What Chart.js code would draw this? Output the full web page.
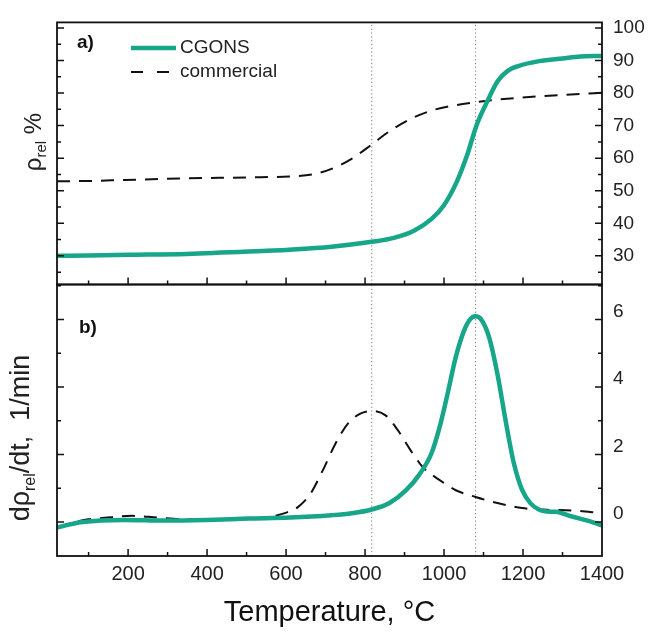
<!DOCTYPE html>
<html>
<head>
<meta charset="utf-8">
<script src="https://cdn.jsdelivr.net/npm/chart.js@4.4.1/dist/chart.umd.min.js"></script>
<style>
body { margin: 0; background: #fff; }
#wrap { position: relative; width: 649px; height: 632px; }
canvas { position: absolute; left: 0; top: 0; }
</style>
</head>
<body>
<div id="wrap">
<canvas id="panelA" width="649" height="632"></canvas>
<canvas id="panelB" width="649" height="632"></canvas>
</div>
<script>
// a) relative density, %
var cgonsT   = [20, 100, 200, 348, 505, 609, 715, 817, 873, 925, 967, 999, 1031, 1057, 1083, 1109, 1136, 1162, 1188, 1241, 1300, 1345, 1400];
var cgonsRho = [30.0, 30.1, 30.3, 30.6, 31.3, 31.9, 32.8, 34.3, 35.5, 37.8, 41.2, 45.4, 52.4, 60.4, 70.3, 77.3, 83.7, 86.9, 88.3, 89.8, 90.6, 91.2, 91.4];
var commT    = [20, 100, 191, 348, 505, 609, 671, 715, 766, 817, 861, 925, 976, 1031, 1083, 1136, 1241, 1345, 1400];
var commRho  = [52.9, 53.0, 53.3, 53.8, 54.1, 54.4, 55.1, 56.7, 59.8, 64.2, 68.2, 72.6, 74.9, 76.3, 77.2, 78.0, 79.0, 79.7, 80.1];

// b) densification rate, 1/min
var cgonsRateT = [20, 50, 85, 190, 295, 400, 505, 610, 715, 767, 817, 862, 904, 936, 968, 989, 1009, 1030, 1051, 1067, 1080, 1093, 1114, 1135, 1156, 1177, 1198, 1219, 1240, 1260, 1282, 1324, 1366, 1400];
var cgonsRate  = [-0.17, -0.08, 0.0, 0.06, 0.04, 0.06, 0.1, 0.13, 0.2, 0.26, 0.37, 0.56, 0.94, 1.38, 2.03, 2.82, 3.8, 4.9, 5.68, 6.02, 6.1, 6.02, 5.48, 4.4, 3.0, 1.73, 0.94, 0.55, 0.37, 0.31, 0.3, 0.16, 0.03, -0.1];
var commRateT  = [20, 85, 148, 211, 274, 348, 453, 546, 599, 630, 662, 693, 725, 757, 788, 820, 852, 883, 915, 946, 989, 1030, 1080, 1135, 1198, 1261, 1324, 1400];
var commRate   = [-0.15, 0.05, 0.13, 0.18, 0.13, 0.08, 0.09, 0.13, 0.27, 0.44, 0.84, 1.53, 2.32, 2.92, 3.21, 3.29, 3.16, 2.72, 2.13, 1.63, 1.24, 0.94, 0.74, 0.56, 0.41, 0.36, 0.34, 0.26];

// peak temperatures (dotted guides)
var markerT = [817, 1080];

// axes
var tMin = 20, tMax = 1400;
var xTicks = [200, 400, 600, 800, 1000, 1200, 1400];
var xMinor = [100, 300, 500, 700, 900, 1100, 1300];
var rhoMin = 21.2, rhoMax = 101.7;
var rhoTicks = [30, 40, 50, 60, 70, 80, 90, 100];
var rhoMinor = [25, 35, 45, 55, 65, 75, 85, 95];
var rateMin = -1.01, rateMax = 7.04;
var rateTicks = [0, 2, 4, 6];
var rateMinor = [-1, 1, 3, 5, 7];

var green = '#17a689';
var FONT = "'Liberation Sans', Arial, sans-serif";
Chart.defaults.font.family = FONT;
Chart.defaults.color = '#222';

function pts(xs, ys) {
    return xs.map(function (x, i) { return { x: x, y: ys[i] }; });
}

function guides(lo, hi) {
    return markerT.map(function (t) {
        return {
            label: 'guide',
            data: [{ x: t, y: lo }, { x: t, y: hi }],
            borderColor: '#777',
            borderWidth: 1,
            borderDash: [1.2, 2.6],
            pointRadius: 0
        };
    });
}

// inward major/minor ticks + box, origin style
function framePlugin(yMajor, yMinor) {
    return {
        id: 'frame',
        afterDatasetsDraw: function (chart) {
            var a = chart.chartArea, c = chart.ctx;
            var sx = chart.scales.x, sy = chart.scales.y;
            c.save();
            c.strokeStyle = '#111';
            c.lineWidth = 1.5;
            c.beginPath();
            function yt(v, len) {
                var p = sy.getPixelForValue(v);
                if (p < a.top + 1 || p > a.bottom - 1) return;
                c.moveTo(a.left, p); c.lineTo(a.left + len, p);
                c.moveTo(a.right, p); c.lineTo(a.right - len, p);
            }
            function xt(v, len) {
                var p = sx.getPixelForValue(v);
                c.moveTo(p, a.bottom); c.lineTo(p, a.bottom - len);
            }
            yMajor.forEach(function (v) { yt(v, 7); });
            yMinor.forEach(function (v) { yt(v, 4); });
            xTicks.forEach(function (v) { if (v < tMax) xt(v, 7); });
            xMinor.forEach(function (v) { xt(v, 4); });
            c.stroke();
            c.lineWidth = 1.8;
            c.strokeRect(a.left, a.top, a.right - a.left, a.bottom - a.top);
            c.restore();
        }
    };
}

// rotated axis label with a subscript part
function drawRotated(c, x, yMid, parts) {
    var total = 0;
    parts.forEach(function (p) {
        c.font = p.size + 'px ' + FONT;
        p.w = c.measureText(p.t).width;
        total += p.w;
    });
    c.save();
    c.translate(x, yMid + total / 2);
    c.rotate(-Math.PI / 2);
    c.fillStyle = '#222';
    c.textBaseline = 'alphabetic';
    var pos = 0;
    parts.forEach(function (p) {
        c.font = p.size + 'px ' + FONT;
        c.fillText(p.t, pos, p.dy || 0);
        pos += p.w;
    });
    c.restore();
}

var labelsA = {
    id: 'labelsA',
    afterDraw: function (chart) {
        var c = chart.ctx;
        var ds = chart.data.datasets;
        c.save();
        c.fillStyle = '#111';
        c.font = 'bold 19px ' + FONT;
        c.textBaseline = 'alphabetic';
        c.fillText('a)', 77, 48);
        // legend
        c.strokeStyle = ds[0].borderColor;
        c.lineWidth = ds[0].borderWidth;
        c.beginPath(); c.moveTo(131, 48); c.lineTo(176, 48); c.stroke();
        c.strokeStyle = ds[1].borderColor;
        c.lineWidth = ds[1].borderWidth;
        c.setLineDash([12, 14]);
        c.beginPath(); c.moveTo(131, 72); c.lineTo(172, 72); c.stroke();
        c.setLineDash([]);
        c.fillStyle = '#222';
        c.font = '19px ' + FONT;
        c.textBaseline = 'middle';
        c.fillText(ds[0].label, 180, 48);
        c.fillText(ds[1].label, 180, 72);
        c.restore();
        drawRotated(c, 41, 142, [
            { t: '\u03c1', size: 24 },
            { t: 'rel', size: 15, dy: 5 },
            { t: ' %', size: 24 }
        ]);
    }
};

var labelsB = {
    id: 'labelsB',
    afterDraw: function (chart) {
        var c = chart.ctx;
        c.save();
        c.fillStyle = '#111';
        c.font = 'bold 19px ' + FONT;
        c.fillText('b)', 79, 333);
        c.restore();
        drawRotated(c, 29, 438, [
            { t: 'd\u03c1', size: 27 },
            { t: 'rel', size: 16, dy: 6 },
            { t: '/dt,  1/min', size: 27 }
        ]);
    }
};

var ctx = document.getElementById('panelA').getContext('2d');
var chartA = new Chart(ctx, {
    type: 'line',
    data: {
        datasets: [
            {
                label: 'CGONS',
                data: pts(cgonsT, cgonsRho),
                borderColor: green,
                borderWidth: 4.5,
                pointRadius: 0,
                cubicInterpolationMode: 'monotone'
            },
            {
                label: 'commercial',
                data: pts(commT, commRho),
                borderColor: '#111',
                borderWidth: 2,
                borderDash: [13, 9],
                pointRadius: 0,
                cubicInterpolationMode: 'monotone'
            }
        ].concat(guides(rhoMin, rhoMax))
    },
    options: {
        responsive: false,
        animation: false,
        layout: { padding: { left: 57, top: 15, right: 0, bottom: 347.5 } },
        plugins: { legend: { display: false }, tooltip: { enabled: false } },
        scales: {
            x: { type: 'linear', min: tMin, max: tMax, display: false },
            y: {
                type: 'linear',
                position: 'right',
                min: rhoMin,
                max: rhoMax,
                grid: { display: false, drawTicks: false },
                border: { display: false },
                afterBuildTicks: function (s) { s.ticks = rhoTicks.map(function (v) { return { value: v }; }); },
                afterFit: function (s) { s.width = 47; },
                ticks: { font: { size: 19 }, padding: 11, color: '#222' }
            }
        }
    },
    plugins: [framePlugin(rhoTicks, rhoMinor), labelsA]
});

/*-----------------------------------------------b---------------------------------------------*/

var ctx = document.getElementById('panelB').getContext('2d');
var chartB = new Chart(ctx, {
    type: 'line',
    data: {
        datasets: [
            {
                label: 'CGONS',
                data: pts(cgonsRateT, cgonsRate),
                borderColor: green,
                borderWidth: 4.5,
                pointRadius: 0,
                cubicInterpolationMode: 'monotone'
            },
            {
                label: 'commercial',
                data: pts(commRateT, commRate),
                borderColor: '#111',
                borderWidth: 2,
                borderDash: [13, 9],
                pointRadius: 0,
                cubicInterpolationMode: 'monotone'
            }
        ].concat(guides(rateMin, rateMax))
    },
    options: {
        responsive: false,
        animation: false,
        layout: { padding: { left: 57, top: 284.5, right: 0, bottom: 0 } },
        plugins: { legend: { display: false }, tooltip: { enabled: false } },
        scales: {
            x: {
                type: 'linear',
                min: tMin,
                max: tMax,
                grid: { display: false, drawTicks: false },
                border: { display: false },
                afterBuildTicks: function (s) { s.ticks = xTicks.map(function (v) { return { value: v }; }); },
                afterFit: function (s) { s.height = 76; },
                ticks: {
                    font: { size: 20 }, padding: 6, color: '#222', maxRotation: 0,
                    callback: function (v) { return String(v); }
                },
                title: {
                    display: true,
                    text: 'Temperature, \u00b0C',
                    font: { size: 29 },
                    color: '#111',
                    padding: { top: 0, bottom: 2 }
                }
            },
            y: {
                type: 'linear',
                position: 'right',
                min: rateMin,
                max: rateMax,
                grid: { display: false, drawTicks: false },
                border: { display: false },
                afterBuildTicks: function (s) { s.ticks = rateTicks.map(function (v) { return { value: v }; }); },
                afterFit: function (s) { s.width = 47; },
                ticks: { font: { size: 19 }, padding: 11, color: '#222', labelOffset: -8 }
            }
        }
    },
    plugins: [framePlugin(rateTicks, rateMinor), labelsB]
});
</script>
</body>
</html>
